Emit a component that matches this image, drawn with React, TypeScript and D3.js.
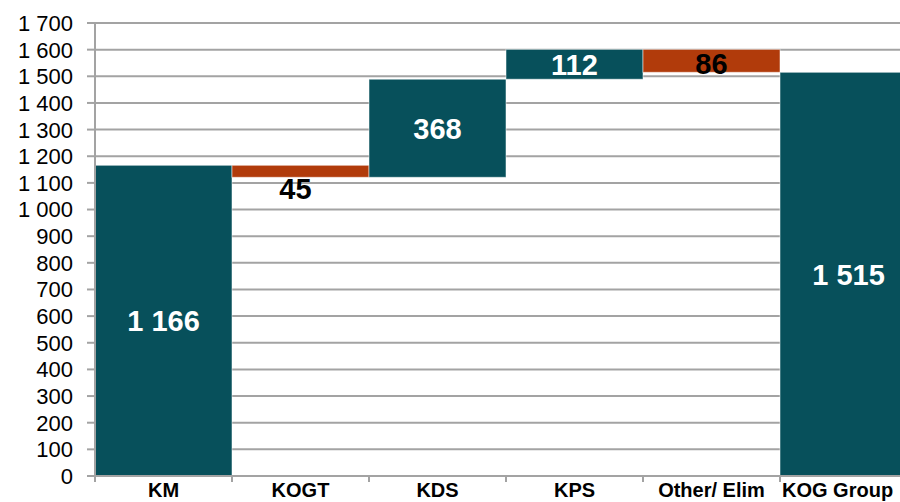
import React from "react";
import * as d3 from "d3";

const categories = ["KM", "KOGT", "KDS", "KPS", "Other/ Elim", "KOG Group"];
const changes = [1166, -45, 368, 112, -86, 1515];
const isTotal = [true, false, false, false, false, true];
const valueLabels = ["1 166", "45", "368", "112", "86", "1 515"];
const yTicks = d3.range(0, 1701, 100);

const W = 900;
const H = 502;
const left = 95;
const bandW = 137;
const top = 23;
const bottom = 476;

const TEAL = "#07505B";
const ORANGE = "#B13B0B";
const GRID = "#a3a3a3";

function fmt(v: number) {
  const s = String(v);
  return s.length > 3 ? s.slice(0, s.length - 3) + " " + s.slice(-3) : s;
}

export default function App() {
  const x = d3
    .scaleBand<string>()
    .domain(categories)
    .range([left, left + bandW * categories.length])
    .padding(0);
  const y = d3.scaleLinear().domain([0, 1700]).range([bottom, top]);

  let run = 0;
  const bars = categories.map((c, i) => {
    let y0: number, y1: number;
    if (isTotal[i]) {
      y0 = 0;
      y1 = changes[i];
      run = changes[i];
    } else {
      y0 = run;
      y1 = run + changes[i];
      run = y1;
    }
    const lo = Math.min(y0, y1);
    const hi = Math.max(y0, y1);
    const neg = !isTotal[i] && changes[i] < 0;
    return { c, i, lo, hi, neg };
  });

  const font = "'Liberation Sans', Arial, sans-serif";

  return (
    <svg
      width={W}
      height={H}
      style={{ position: "absolute", left: 0, top: 0, background: "#fff" }}
      fontFamily={font}
    >
      {yTicks.map((t) => (
        <g key={t}>
          {t > 0 && (
            <line
              x1={left}
              x2={W}
              y1={y(t)}
              y2={y(t)}
              stroke={GRID}
              strokeWidth={2}
            />
          )}
          <line x1={87} x2={left} y1={y(t)} y2={y(t)} stroke={GRID} strokeWidth={2} />
          <text
            x={73}
            y={y(t)}
            dy="0.36em"
            textAnchor="end"
            fontSize={22}
            fill="#000"
          >
            {fmt(t)}
          </text>
        </g>
      ))}

      {bars.map((b) => (
        <rect
          key={b.c}
          x={x(b.c)!}
          width={x.bandwidth()}
          y={y(b.hi)}
          height={y(b.lo) - y(b.hi)}
          fill={b.neg ? ORANGE : TEAL}
          stroke="#ffffff"
          strokeOpacity={0.5}
          strokeWidth={1}
        />
      ))}

      <line x1={left} x2={left} y1={top - 1} y2={bottom} stroke={GRID} strokeWidth={2} />
      <line x1={left} x2={W} y1={bottom} y2={bottom} stroke={GRID} strokeWidth={2} />
      {categories.map((c) => (
        <line
          key={"t" + c}
          x1={x(c)!}
          x2={x(c)!}
          y1={bottom}
          y2={bottom + 6}
          stroke={GRID}
          strokeWidth={2}
        />
      ))}

      {categories.map((c, i) => {
        const last = i === categories.length - 1;
        return (
          <text
            key={"c" + c}
            x={last ? x(c)! + 2 : x(c)! + x.bandwidth() / 2}
            y={497}
            textAnchor={last ? "start" : "middle"}
            fontSize={20}
            fontWeight="bold"
            fill="#000"
          >
            {c}
          </text>
        );
      })}

      {bars.map((b) => {
        const cx = x(b.c)! + x.bandwidth() / 2;
        let cy = (y(b.lo) + y(b.hi)) / 2;
        if (b.neg && y(b.lo) - y(b.hi) < 20) cy = y(b.lo) + 11;
        if (b.neg && b.i === 4) cy = (y(b.lo) + y(b.hi)) / 2 + 3;
        return (
          <text
            key={"v" + b.c}
            x={b.neg && b.i === 1 ? cx - 5 : cx}
            y={cy}
            dy="0.36em"
            textAnchor="middle"
            fontSize={29}
            fontWeight="bold"
            fill={b.neg ? "#000" : "#fff"}
          >
            {valueLabels[b.i]}
          </text>
        );
      })}
    </svg>
  );
}
